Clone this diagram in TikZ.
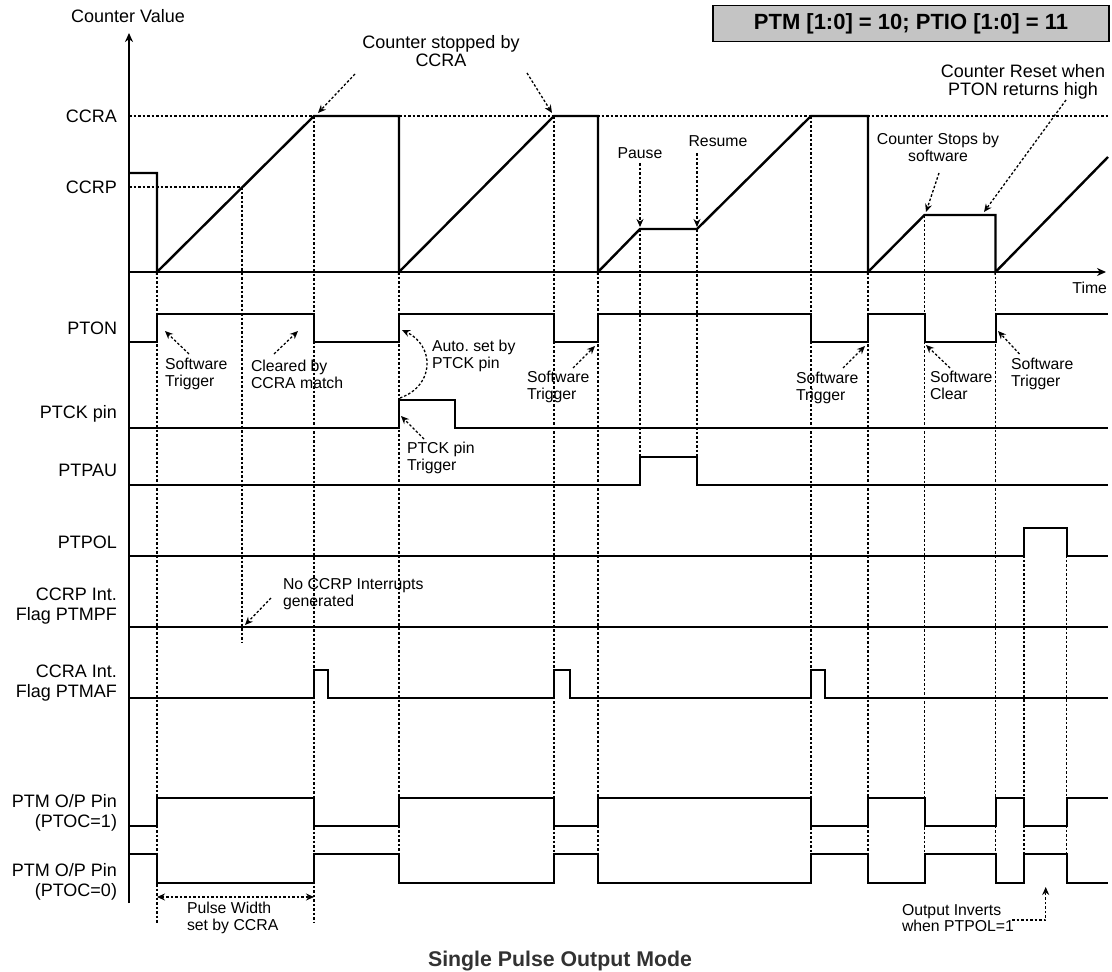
\documentclass[tikz,border=0pt]{standalone}
\usepackage{fontspec}
\setmainfont{Liberation Sans}
\usetikzlibrary{arrows.meta}
\definecolor{boxgray}{RGB}{196,196,196}
\definecolor{captiongray}{RGB}{50,50,50}

\begin{document}
\begin{tikzpicture}[x=1pt,y=-1pt,line width=2pt]
  \tikzstyle{every node}=[inner sep=0pt]
  \tikzstyle{wave}=[line width=2pt]
  \tikzstyle{counter}=[line width=2.4pt]
  \tikzstyle{guide}=[line width=1.3pt,dash pattern=on 2.5pt off 2pt]
  \tikzstyle{hint}=[guide,-{Stealth[length=8pt,width=7pt]}]
  \tikzstyle{lab}=[font=\fontsize{18}{19.5}\selectfont,anchor=east,align=right]
  \tikzstyle{note}=[font=\fontsize{15.8}{16.8}\selectfont,anchor=west,align=left]
  \tikzstyle{bignote}=[font=\fontsize{18}{18.5}\selectfont,align=center]
  \useasboundingbox (0,0) rectangle (1112,972);

  % header and caption
  \node[draw,fill=boxgray,line width=1.6pt,minimum width=396pt,minimum height=36pt,
        font=\fontsize{22}{24}\selectfont\bfseries] (mode) at (911,23.5) {PTM [1:0] = 10; PTIO [1:0] = 11};
  \node[font=\fontsize{21.3}{23}\selectfont\bfseries,text=captiongray] (caption) at (560,961) {Single Pulse Output Mode};

  % row labels
  \node[font=\fontsize{18}{19.5}\selectfont] (cv) at (128,16) {Counter Value};
  \node[lab] (ccra) at (118,116) {CCRA};
  \node[lab] (ccrp) at (118,187) {CCRP};
  \node[lab] (pton) at (118,328) {PTON};
  \node[lab] (ptck) at (118,414) {PTCK pin};
  \node[lab] (ptpau) at (118,470) {PTPAU};
  \node[lab] (ptpol) at (118,542) {PTPOL};
  \node[lab] (mpf) at (118,606) {CCRP Int.\\Flag PTMPF};
  \node[lab] (maf) at (118,683) {CCRA Int.\\Flag PTMAF};
  \node[lab] (oc1) at (118,813) {PTM O/P Pin\\(PTOC=1)};
  \node[lab] (oc0) at (118,882) {PTM O/P Pin\\(PTOC=0)};
  \node[font=\fontsize{15.8}{17}\selectfont,anchor=east] (time) at (1108,288) {Time};

  % dotted guides
  \draw[guide] (129,116) -- (1108,116);
  \draw[guide] (129,187) -- (242,187);
  \draw[guide] (157,272) -- (157,923);
  \draw[guide] (242,187) -- (242,642);
  \draw[guide] (314,116) -- (314,923);
  \draw[guide] (399,272) -- (399,854);
  \draw[guide] (554,116) -- (554,854);
  \draw[guide] (598,272) -- (598,854);
  \draw[guide] (640,229) -- (640,457);
  \draw[guide] (697,229) -- (697,457);
  \draw[guide] (811,116) -- (811,854);
  \draw[guide] (868,272) -- (868,854);
  \draw[guide] (924.5,215) -- (924.5,854);
  \draw[guide] (995.5,272) -- (995.5,854);
  \draw[guide] (1024,528) -- (1024,854);
  \draw[guide] (1066.5,528) -- (1066.5,854);

  % axes
  \draw[counter,-{Stealth[length=9pt,width=8pt]}] (129,903) -- (129,33);
  \draw[counter,-{Stealth[length=9pt,width=8pt]}] (129,272) -- (1106,272);

  % counter value
  \draw[counter] (129,173) -- (157,173) -- (157,272) -- (314,116) -- (399,116) -- (399,272)
    -- (554,116) -- (598,116) -- (598,272) -- (640,229) -- (697,229) -- (811,116) -- (868,116)
    -- (868,272) -- (924.5,215) -- (995.5,215) -- (995.5,272) -- (1108,157);

  % signals
  \draw[wave] (129,342) -- (157,342) -- (157,314) -- (314,314) -- (314,342) -- (399,342) -- (399,314)
    -- (554,314) -- (554,342) -- (598,342) -- (598,314) -- (811,314) -- (811,342) -- (868,342)
    -- (868,314) -- (924.5,314) -- (924.5,342) -- (995.5,342) -- (995.5,314) -- (1108,314);
  \draw[wave] (129,428) -- (399,428) -- (399,400) -- (455,400) -- (455,428) -- (1108,428);
  \draw[wave] (129,485) -- (640,485) -- (640,457) -- (697,457) -- (697,485) -- (1108,485);
  \draw[wave] (129,556) -- (1024,556) -- (1024,528) -- (1066.5,528) -- (1066.5,556) -- (1108,556);
  \draw[wave] (129,627) -- (1108,627);
  \draw[wave] (129,698) -- (314,698) -- (314,670) -- (328,670) -- (328,698) -- (554,698) -- (554,670)
    -- (569.5,670) -- (569.5,698) -- (811,698) -- (811,670) -- (825,670) -- (825,698) -- (1108,698);
  \draw[wave] (129,826) -- (157,826) -- (157,798) -- (314,798) -- (314,826) -- (399,826) -- (399,798)
    -- (554,798) -- (554,826) -- (598,826) -- (598,798) -- (811,798) -- (811,826) -- (868,826)
    -- (868,798) -- (924.5,798) -- (924.5,826) -- (995.5,826) -- (995.5,798) -- (1024,798)
    -- (1024,826) -- (1066.5,826) -- (1066.5,798) -- (1108,798);
  \draw[wave] (129,854) -- (157,854) -- (157,883) -- (314,883) -- (314,854) -- (399,854) -- (399,883)
    -- (554,883) -- (554,854) -- (598,854) -- (598,883) -- (811,883) -- (811,854) -- (868,854)
    -- (868,883) -- (924.5,883) -- (924.5,854) -- (995.5,854) -- (995.5,883) -- (1024,883)
    -- (1024,854) -- (1066.5,854) -- (1066.5,883) -- (1108,883);

  % annotations
  \node[bignote] (stopped) at (441,51) {Counter stopped by\\CCRA};
  \node[bignote] (reset) at (1023,82) {Counter Reset when\\PTON returns high};
  \node[note,anchor=center] (pause) at (640,153) {Pause};
  \node[note,anchor=center] (resume) at (718,141) {Resume};
  \node[note,anchor=center,align=center] (swstop) at (938,147) {Counter Stops by\\software};
  \node[note] (swtrig1) at (164,374) {Software\\Trigger};
  \node[note] (cleared) at (250,374) {Cleared by\\CCRA match};
  \node[note] (autoset) at (431,356) {Auto.\ set by\\PTCK pin};
  \node[note] (ckpin) at (406,458) {PTCK pin\\Trigger};
  \node[note] (swtrig2) at (526,387) {Software\\Trigger};
  \node[note] (swtrig3) at (795,388) {Software\\Trigger};
  \node[note] (swclear) at (929,385) {Software\\Clear};
  \node[note] (swtrig4) at (1010,374) {Software\\Trigger};
  \node[note] (noint) at (282,594) {No CCRP Interrupts\\generated};
  \node[note] (width) at (186,918) {Pulse Width\\set by CCRA};
  \node[note] (invert) at (901,918) {Output Inverts\\when PTPOL=1};

  % arrow ends
  \coordinate (stopA0) at (355,74);    \coordinate (stopA1) at (318,113);
  \coordinate (stopB0) at (527,73);    \coordinate (stopB1) at (552,113);
  \coordinate (pause0) at (640,163);   \coordinate (pause1) at (640,227);
  \coordinate (resume0) at (697,153);  \coordinate (resume1) at (697,227);
  \coordinate (swstop0) at (939,173);  \coordinate (swstop1) at (926,212);
  \coordinate (reset0) at (1066,100);  \coordinate (reset1) at (984,212);
  \coordinate (trig10) at (189,354);   \coordinate (trig11) at (165,331);
  \coordinate (clr0) at (274,354);     \coordinate (clr1) at (298,331);
  \coordinate (auto0) at (400,398);    \coordinate (auto1) at (402,330);
  \coordinate (ck0) at (424,439);      \coordinate (ck1) at (401,416);
  \coordinate (trig20) at (573,368);   \coordinate (trig21) at (595,346);
  \coordinate (trig30) at (843,368);   \coordinate (trig31) at (865,346);
  \coordinate (swclr0) at (950,368);   \coordinate (swclr1) at (926,345);
  \coordinate (trig40) at (1019.5,354); \coordinate (trig41) at (998,331);
  \coordinate (noint0) at (271,598);   \coordinate (noint1) at (245,625);
  \coordinate (pw0) at (157,897);      \coordinate (pw1) at (314,897);
  \coordinate (inv0) at (1012,920);    \coordinate (inv1) at (1045.7,887);

  \draw[hint] (stopA0) -- (stopA1);
  \draw[hint] (stopB0) -- (stopB1);
  \draw[hint] (pause0) -- (pause1);
  \draw[hint] (resume0) -- (resume1);
  \draw[hint] (swstop0) -- (swstop1);
  \draw[hint] (reset0) -- (reset1);
  \draw[hint] (trig10) -- (trig11);
  \draw[hint] (clr0) -- (clr1);
  \draw[hint] (auto0) .. controls (436,385) and (434,345) .. (auto1);
  \draw[hint] (ck0) -- (ck1);
  \draw[hint] (trig20) -- (trig21);
  \draw[hint] (trig30) -- (trig31);
  \draw[hint] (swclr0) -- (swclr1);
  \draw[hint] (trig40) -- (trig41);
  \draw[hint] (noint0) -- (noint1);
  \draw[guide,{Stealth[length=8pt,width=7pt]}-{Stealth[length=8pt,width=7pt]}] (pw0) -- (pw1);
  \draw[hint] (inv0) -| (inv1);
\end{tikzpicture}
\end{document}
